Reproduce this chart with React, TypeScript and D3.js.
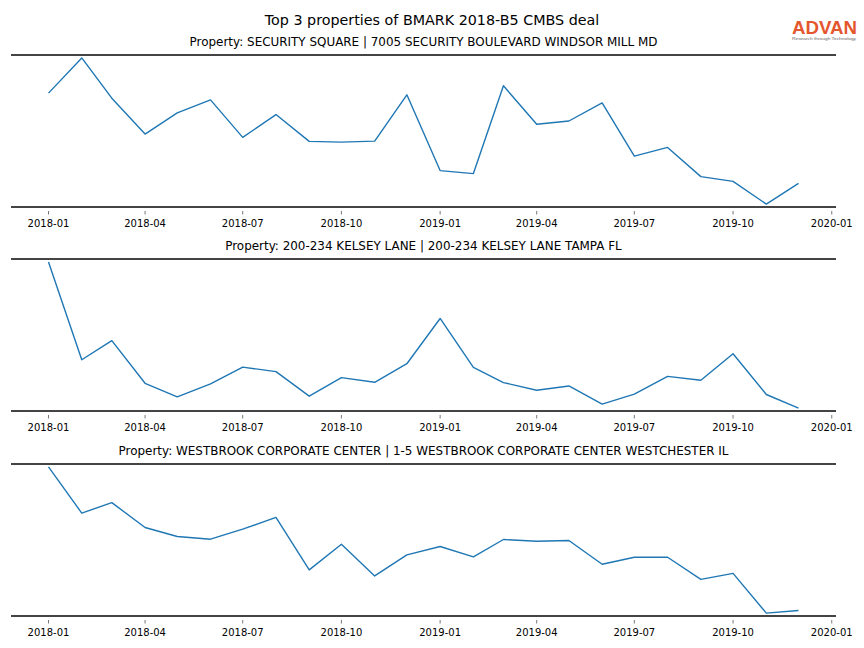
import React from "react";
import * as d3 from "d3";

const months: string[] = [
  "2018-01", "2018-02", "2018-03", "2018-04", "2018-05", "2018-06",
  "2018-07", "2018-08", "2018-09", "2018-10", "2018-11", "2018-12",
  "2019-01", "2019-02", "2019-03", "2019-04", "2019-05", "2019-06",
  "2019-07", "2019-08", "2019-09", "2019-10", "2019-11", "2019-12",
];

const tickLabels: string[] = [
  "2018-01", "2018-04", "2018-07", "2018-10",
  "2019-01", "2019-04", "2019-07", "2019-10", "2020-01",
];

const titles: string[] = [
  "Property: SECURITY SQUARE | 7005 SECURITY BOULEVARD WINDSOR MILL MD",
  "Property: 200-234 KELSEY LANE | 200-234 KELSEY LANE TAMPA FL",
  "Property: WESTBROOK CORPORATE CENTER | 1-5 WESTBROOK CORPORATE CENTER WESTCHESTER IL",
];

const securitySquare: number[] = [
  113, 148, 108, 72.3, 93.3, 106.3, 69, 91.7, 65, 64.3, 65.3, 111.3,
  36, 33, 120.3, 82, 85.3, 103.3, 50.3, 59, 30, 25.3, 2.7, 23.3,
];
const kelseyLane: number[] = [
  149.3, 50.7, 70, 27, 13.3, 26.3, 43.3, 38.7, 14, 32.7, 28, 46.7,
  92.3, 43, 27.7, 20, 24.3, 6, 16, 34, 30, 56.7, 15.7, 2,
];
const westbrook: number[] = [
  148.3, 102.3, 112.7, 88, 79, 76.3, 86.3, 98, 45.7, 71.3, 39.7, 60.7,
  69, 58.7, 76, 74.3, 75, 51.3, 58.3, 58.3, 36.3, 42.3, 2.7, 5.3,
];

const series: number[][] = [securitySquare, kelseyLane, westbrook];

const W = 864;
const H = 648;
const left = 11;
const right = 836;
const panelTops = [55, 259, 464];
const panelH = 152;
const font = "'DejaVu Sans', sans-serif";

const parse = d3.timeParse("%Y-%m");
const dates = months.map((m) => parse(m) as Date);
const t0 = dates[0].getTime();
const t1 = dates[dates.length - 1].getTime();
const margin = (t1 - t0) * 0.05;
const x = d3
  .scaleTime()
  .domain([new Date(t0 - margin), new Date(t1 + margin)])
  .range([left, right]);
const ticks = tickLabels.map((s) => parse(s) as Date);

function Panel({ idx }: { idx: number }) {
  const top = panelTops[idx];
  const bottom = top + panelH;
  const vals = series[idx];
  const [mn, mx] = d3.extent(vals) as [number, number];
  const pad = (mx - mn) * 0.02;
  const y = d3.scaleLinear().domain([mn - pad, mx + pad]).range([bottom, top]);
  const line = d3
    .line<number>()
    .x((_, i) => x(dates[i]))
    .y((v) => y(v));
  return (
    <g>
      <text
        x={(left + right) / 2}
        y={top - 9}
        textAnchor="middle"
        fontFamily={font}
        fontSize={11.95}
        fill="#000"
      >
        {titles[idx]}
      </text>
      <path d={line(vals) || ""} fill="none" stroke="#1f77b4" strokeWidth={1.4} strokeLinejoin="round" />
      <line x1={left} x2={right} y1={top} y2={top} stroke="#444" strokeWidth={2} />
      <line x1={left} x2={right} y1={bottom} y2={bottom} stroke="#444" strokeWidth={2} />
      {ticks.map((t, i) => (
        <g key={i} transform={`translate(${x(t)},0)`}>
          <line y1={bottom + 4} y2={bottom + 7.5} stroke="#555" strokeWidth={0.8} />
          <text
            y={bottom + 19.5}
            textAnchor="middle"
            fontFamily={font}
            fontSize={10}
            fill="#000"
          >
            {tickLabels[i]}
          </text>
        </g>
      ))}
    </g>
  );
}

export default function App() {
  return (
    <svg
      width={W}
      height={H}
      viewBox={`0 0 ${W} ${H}`}
      style={{ position: "absolute", left: 0, top: 0, background: "#fff" }}
    >
      <rect width={W} height={H} fill="#fff" />
      <text x={432} y={24.5} textAnchor="middle" fontFamily={font} fontSize={14.3} fill="#000">
        Top 3 properties of BMARK 2018-B5 CMBS deal
      </text>
      <text x={824.5} y={33.5} textAnchor="middle" fontFamily="'Liberation Sans', Arial, sans-serif" fontWeight={700} fontSize={18} fill="#e4572e" textLength={65} lengthAdjust="spacingAndGlyphs">
        ADVAN
      </text>
      <text x={824} y={40} textAnchor="middle" fontFamily="'Liberation Sans', Arial, sans-serif" fontSize={4} fill="#666" textLength={64} lengthAdjust="spacingAndGlyphs">
        Research through Technology
      </text>
      {series.map((_, i) => (
        <Panel key={i} idx={i} />
      ))}
    </svg>
  );
}
